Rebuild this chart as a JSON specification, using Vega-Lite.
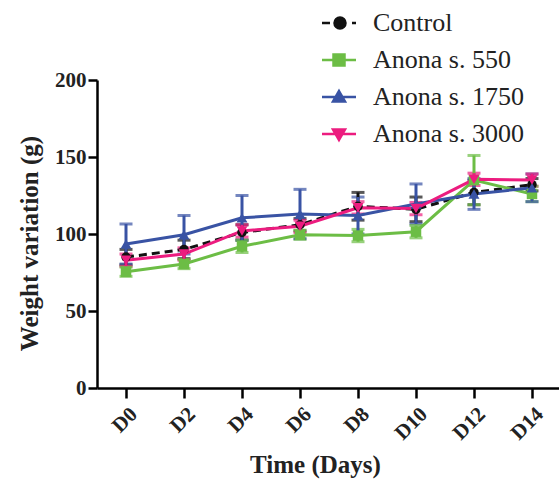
{
  "$schema": "https://vega.github.io/schema/vega-lite/v6.json",
  "autosize": "none",
  "padding": {"left": 97, "top": 80, "right": 0, "bottom": 93},
  "width": 464,
  "height": 308,
  "config": {
    "view": {"stroke": null},
    "font": "Liberation Serif"
  },
  "data": {
    "values": [
      {"day": "D0", "group": "Control", "mean": 85, "sd": 5},
      {"day": "D2", "group": "Control", "mean": 90, "sd": 6},
      {"day": "D4", "group": "Control", "mean": 101, "sd": 5},
      {"day": "D6", "group": "Control", "mean": 106, "sd": 4},
      {"day": "D8", "group": "Control", "mean": 118, "sd": 9},
      {"day": "D10", "group": "Control", "mean": 116, "sd": 8},
      {"day": "D12", "group": "Control", "mean": 127, "sd": 8},
      {"day": "D14", "group": "Control", "mean": 132, "sd": 4},
      {"day": "D0", "group": "Anona s. 550", "mean": 75.5, "sd": 3},
      {"day": "D2", "group": "Anona s. 550", "mean": 80.5, "sd": 3},
      {"day": "D4", "group": "Anona s. 550", "mean": 92, "sd": 4},
      {"day": "D6", "group": "Anona s. 550", "mean": 99.5, "sd": 3},
      {"day": "D8", "group": "Anona s. 550", "mean": 99, "sd": 4},
      {"day": "D10", "group": "Anona s. 550", "mean": 101.5, "sd": 4},
      {"day": "D12", "group": "Anona s. 550", "mean": 135, "sd": 16},
      {"day": "D14", "group": "Anona s. 550", "mean": 126, "sd": 5},
      {"day": "D0", "group": "Anona s. 1750", "mean": 93.5, "sd": 13},
      {"day": "D2", "group": "Anona s. 1750", "mean": 99.5, "sd": 12.5},
      {"day": "D4", "group": "Anona s. 1750", "mean": 110.5, "sd": 14.5},
      {"day": "D6", "group": "Anona s. 1750", "mean": 113, "sd": 16},
      {"day": "D8", "group": "Anona s. 1750", "mean": 112, "sd": 12},
      {"day": "D10", "group": "Anona s. 1750", "mean": 119.5, "sd": 13},
      {"day": "D12", "group": "Anona s. 1750", "mean": 126, "sd": 10},
      {"day": "D14", "group": "Anona s. 1750", "mean": 130, "sd": 9},
      {"day": "D0", "group": "Anona s. 3000", "mean": 83, "sd": 4},
      {"day": "D2", "group": "Anona s. 3000", "mean": 87, "sd": 4},
      {"day": "D4", "group": "Anona s. 3000", "mean": 102, "sd": 4},
      {"day": "D6", "group": "Anona s. 3000", "mean": 105, "sd": 4},
      {"day": "D8", "group": "Anona s. 3000", "mean": 117, "sd": 4},
      {"day": "D10", "group": "Anona s. 3000", "mean": 116.5, "sd": 4},
      {"day": "D12", "group": "Anona s. 3000", "mean": 135.5, "sd": 4},
      {"day": "D14", "group": "Anona s. 3000", "mean": 135, "sd": 4}
    ]
  },
  "encoding": {
    "x": {
      "field": "day", "type": "ordinal",
      "sort": ["D0", "D2", "D4", "D6", "D8", "D10", "D12", "D14"],
      "scale": {"type": "point", "padding": 0.5},
      "axis": {
        "title": "Time (Days)",
        "titleFont": "Liberation Serif", "titleFontSize": 25, "titleFontWeight": "bold", "titleColor": "#222",
        "titlePadding": 9, "titleX": 218,
        "labelFont": "Liberation Serif", "labelFontSize": 21, "labelFontWeight": "bold", "labelColor": "#222",
        "labelAngle": -45, "labelPadding": 5,
        "domainColor": "black", "domainWidth": 2.5,
        "tickColor": "black", "tickWidth": 2.5, "tickSize": 10,
        "grid": false
      }
    },
    "y": {
      "field": "mean", "type": "quantitative",
      "scale": {"domain": [0, 200], "nice": false},
      "axis": {
        "title": "Weight variation (g)",
        "titleFont": "Liberation Serif", "titleFontSize": 25, "titleFontWeight": "bold", "titleColor": "#222",
        "titlePadding": 12, "titleY": 163,
        "labelFont": "Liberation Serif", "labelFontSize": 21, "labelFontWeight": "bold", "labelColor": "#222",
        "labelPadding": 2,
        "values": [0, 50, 100, 150, 200],
        "domainColor": "black", "domainWidth": 2.5,
        "tickColor": "black", "tickWidth": 2.5, "tickSize": 9,
        "grid": false
      }
    },
    "color": {
      "field": "group", "type": "nominal",
      "scale": {
        "domain": ["Control", "Anona s. 550", "Anona s. 1750", "Anona s. 3000"],
        "range": ["#111111", "#6cbd45", "#3953a4", "#ec1c7f"]
      },
      "legend": {
        "title": null,
        "orient": "none",
        "legendX": 229,
        "legendY": -70,
        "padding": 0,
        "symbolType": "circle",
        "symbolSize": 400,
        "symbolStrokeWidth": 2.5,
        "symbolOpacity": 1,
        "symbolDash": [],
        "labelFont": "Liberation Serif",
        "labelFontSize": 26,
        "labelColor": "#222",
        "labelOffset": 21,
        "labelLimit": 300,
        "rowPadding": 11,
        "encode": {
          "labels": {
            "update": {
              "font": {"value": "Liberation Serif"}
            }
          },
          "symbols": {
            "update": {
              "shape": {"signal": "datum.value === 'Control' ? 'M-1.7,0H-0.9M1.3,0H1.7M-0.45,0A0.55,0.55 0 1,0 0.65,0A0.55,0.55 0 1,0 -0.45,0Z' : datum.value === 'Anona s. 550' ? 'M-1.7,0H1.7M-0.55,-0.55H0.55V0.55H-0.55Z' : datum.value === 'Anona s. 1750' ? 'M-1.7,0H1.7M0,-0.6L0.6,0.45L-0.6,0.45Z' : 'M-1.7,0H1.7M0,0.6L0.6,-0.45L-0.6,-0.45Z'"},
              "fill": {"scale": "color", "field": "value"},
              "stroke": {"scale": "color", "field": "value"},
              "strokeWidth": {"value": 2.5},
              "opacity": {"value": 1}
            }
          }
        }
      }
    }
  },
  "layer": [
    {
      "mark": {"type": "errorbar", "ticks": {"size": 13, "thickness": 3}, "thickness": 3},
      "encoding": {
        "yError": {"field": "sd"}
      }
    },
    {
      "transform": [{"filter": "datum.group === 'Control'"}],
      "mark": {"type": "line", "strokeWidth": 3, "strokeDash": [8, 5]}
    },
    {
      "transform": [{"filter": "datum.group !== 'Control'"}],
      "mark": {"type": "line", "strokeWidth": 3}
    },
    {
      "transform": [{"filter": "datum.group === 'Control'"}],
      "mark": {"type": "point", "filled": true, "size": 90, "opacity": 1, "shape": "circle"}
    },
    {
      "transform": [{"filter": "datum.group === 'Anona s. 550'"}],
      "mark": {"type": "point", "filled": true, "size": 110, "opacity": 1, "shape": "square"}
    },
    {
      "transform": [{"filter": "datum.group === 'Anona s. 1750'"}],
      "mark": {"type": "point", "filled": true, "size": 120, "opacity": 1, "shape": "triangle-up"}
    },
    {
      "transform": [{"filter": "datum.group === 'Anona s. 3000'"}],
      "mark": {"type": "point", "filled": true, "size": 120, "opacity": 1, "shape": "triangle-down"}
    }
  ]
}
